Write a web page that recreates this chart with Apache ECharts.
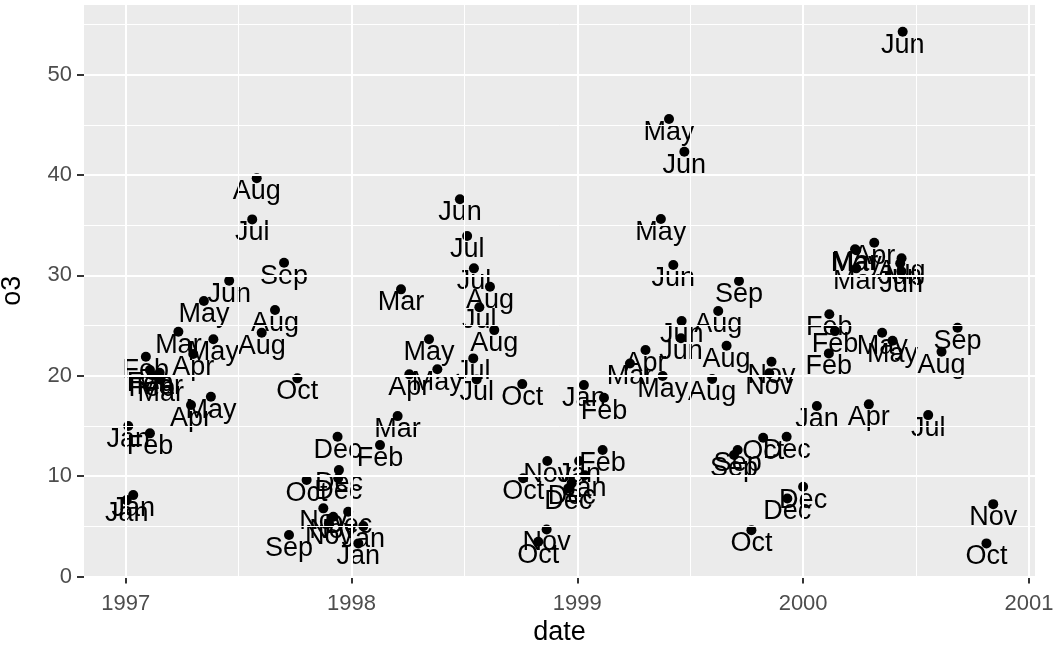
<!DOCTYPE html>
<html><head><meta charset="utf-8">
<script src="https://cdn.jsdelivr.net/npm/echarts@6/dist/echarts.min.js"></script>
<style>html,body{margin:0;padding:0;background:#fff}#c{width:1058px;height:647px}</style>
</head><body><div id="c"></div>
<script>
// month labels, dates (decimal year) and o3 values
const months = [
 'Jan','Jan','Jan','Feb','Feb','Feb','Feb','Mar','Mar','Mar','Apr','Apr','May','May','May','Jun','Jul','Aug','Aug','Aug','Sep','Sep','Oct','Oct','Nov','Nov','Nov','Dec','Dec','Dec','Dec','Jan','Jan',
 'Feb','Mar','Mar','Apr','May','May','Jun','Jul','Jul','Jul','Jul','Jul','Aug','Aug','Oct','Oct','Oct','Nov','Nov','Dec','Dec',
 'Jan','Jan','Jan','Feb','Feb','Mar','Apr','May','May','May','Jun','Jun','Jun','Jun','Aug','Aug','Aug','Sep','Sep','Sep','Oct','Oct','Nov','Nov','Dec','Dec','Dec',
 'Jan','Feb','Feb','Feb','Mar','Mar','Apr','May','Aug','Jun','Jun','Apr','May','May','Jun','Jul','Aug','Sep','Oct','Nov'
];
const dates = [
 1997.011,1997.033,1997.004,1997.089,1997.107,1997.107,1997.115,1997.233,1997.150,1997.155,1997.299,1997.289,1997.346,1997.388,1997.377,1997.458,1997.560,1997.580,1997.661,1997.602,1997.701,1997.723,1997.760,1997.801,1997.875,1997.919,1997.900,1997.938,1997.944,1997.941,1997.985,1998.052,1998.030,
 1998.126,1998.204,1998.219,1998.256,1998.343,1998.380,1998.480,1998.512,1998.542,1998.566,1998.539,1998.554,1998.613,1998.632,1998.756,1998.760,1998.827,1998.867,1998.864,1998.960,1998.975,
 1999.029,1999.008,1999.033,1999.118,1999.112,1999.233,1999.302,1999.406,1999.370,1999.378,1999.474,1999.425,1999.462,1999.459,1999.624,1999.661,1999.597,1999.716,1999.710,1999.694,1999.823,1999.771,1999.860,1999.850,1999.927,2000.000,1999.930,
 2000.061,2000.116,2000.141,2000.114,2000.230,2000.235,2000.315,2000.235,2000.436,2000.430,2000.435,2000.291,2000.350,2000.396,2000.441,2000.554,2000.613,2000.684,2000.812,2000.842
];
const o3 = [
 14.99,8.11,7.61,21.89,14.26,20.57,20.07,24.39,20.3,19.6,22.16,17.08,27.44,23.63,17.91,29.47,35.58,39.67,26.55,24.29,31.26,4.13,19.74,9.61,6.79,5.95,5.3,13.92,10.60,9.78,6.45,5.02,3.30,
 13.09,15.98,28.61,20.14,23.63,20.64,37.58,33.92,30.70,26.82,21.73,19.64,28.87,24.55,19.17,9.78,3.46,11.50,4.69,8.78,9.30,
 19.07,11.50,10.10,17.81,12.60,21.23,22.56,45.58,35.62,19.97,42.32,31.03,25.45,23.73,26.45,22.99,19.67,29.44,12.60,12.10,13.82,4.62,21.40,20.24,13.92,8.94,7.78,
 16.98,26.12,24.45,22.23,32.6,30.7,33.25,32.5,31.7,31.2,30.4,17.15,24.29,23.49,54.28,16.08,22.39,24.79,3.30,7.21
];
const xTicks = [1997, 1998, 1999, 2000, 2001];
const xMinor = [1997.5, 1998.5, 1999.5, 2000.5];
const yTicks = [0, 10, 20, 30, 40, 50];
const yMinor = [5, 15, 25, 35, 45, 55];

const pts = dates.map((d, i) => [d, o3[i], months[i]]);
const major = {color: '#FFFFFF', width: 2, type: 'solid'};
const minor = {color: '#FFFFFF', width: 1, type: 'solid'};
const grid = [].concat(
  xMinor.map(v => ({xAxis: v, lineStyle: minor})),
  yMinor.map(v => ({yAxis: v, lineStyle: minor})),
  xTicks.map(v => ({xAxis: v, lineStyle: major})),
  yTicks.map(v => ({yAxis: v, lineStyle: major}))
);
const FONT = '"Liberation Sans", Arial, sans-serif';
const chart = echarts.init(document.getElementById('c'), null, {renderer: 'canvas'});
chart.setOption({
  animation: false,
  backgroundColor: '#FFFFFF',
  grid: {left: 84, right: 23, top: 5, bottom: 70.5, show: true, backgroundColor: '#EBEBEB', borderWidth: 0,
         containLabel: false, outerBoundsMode: 'none'},
  xAxis: {
    type: 'value', min: 1996.815, max: 2001.027,
    name: 'date', nameLocation: 'middle', nameGap: 39,
    nameTextStyle: {fontSize: 27, color: '#000', fontFamily: FONT},
    axisLine: {show: false},
    axisTick: {show: true, length: 7, lineStyle: {color: '#333333', width: 2}, customValues: xTicks},
    axisLabel: {fontSize: 22, color: '#4D4D4D', fontFamily: FONT, margin: 16, customValues: xTicks, formatter: v => String(Math.round(v))},
    splitLine: {show: false}
  },
  yAxis: {
    type: 'value', min: 0, max: 56.94,
    name: 'o3', nameLocation: 'middle', nameGap: 58,
    nameTextStyle: {fontSize: 27, color: '#000', fontFamily: FONT},
    axisLine: {show: false},
    axisTick: {show: true, length: 7, lineStyle: {color: '#333333', width: 2}, customValues: yTicks},
    axisLabel: {fontSize: 22, color: '#4D4D4D', fontFamily: FONT, margin: 12, customValues: yTicks},
    splitLine: {show: false}
  },
  series: [
    {type: 'scatter', data: [], z: 1, silent: true,
     markLine: {silent: true, symbol: ['none', 'none'], label: {show: false}, data: grid, animation: false}},
    {type: 'scatter', z: 3, data: pts, symbolSize: 10,
     itemStyle: {color: '#000000', opacity: 1},
     label: {show: true, formatter: p => p.data[2], position: ['50%', '50%'], align: 'center', verticalAlign: 'top',
             offset: [0, -7], fontSize: 27, lineHeight: 27, color: '#000000', fontFamily: FONT},
     labelLayout: {hideOverlap: false}}
  ]
});
</script></body></html>
